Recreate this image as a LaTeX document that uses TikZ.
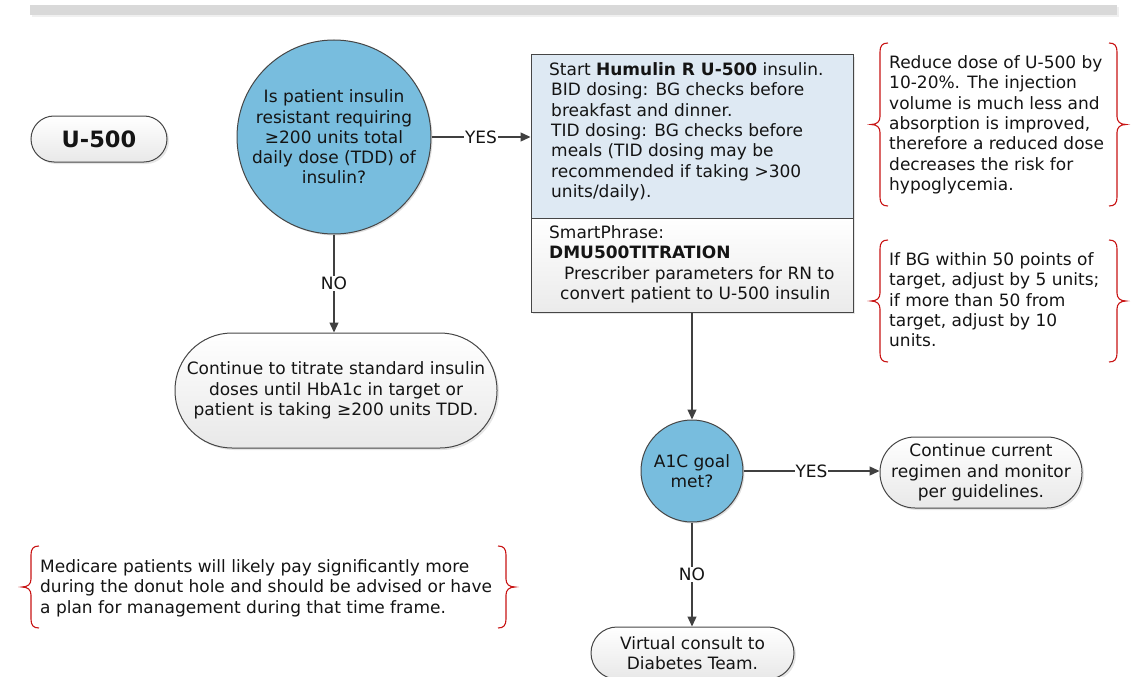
\documentclass[tikz,border=0pt]{standalone}
\usepackage{fontspec}
\setmainfont{DejaVu Sans}
\usetikzlibrary{arrows.meta,shadows}
\definecolor{tc}{RGB}{20,20,20}
\definecolor{cblue}{RGB}{120,189,222}
\definecolor{bordc}{RGB}{70,70,70}
\definecolor{linec}{RGB}{64,64,64}
\definecolor{boxblue}{RGB}{222,233,243}
\definecolor{bracered}{RGB}{200,20,20}
\definecolor{barc}{RGB}{217,217,217}
\tikzset{
  txt/.style={font=\fontsize{17}{20.3}\selectfont, text=tc},
  dec/.style={circle, draw=bordc, line width=1pt, fill=cblue, txt, align=center, inner sep=0pt,
     drop shadow={shadow xshift=1.5pt, shadow yshift=-1.5pt, opacity=0.25}},
  pill/.style={draw=bordc, line width=1pt, top color=white, bottom color=black!9, txt, align=center,
     inner sep=0pt, rounded corners=#1,
     drop shadow={shadow xshift=2pt, shadow yshift=-2pt, opacity=0.2}},
  conn/.style={draw=linec, line width=1.3pt, -{Triangle[length=10pt,width=9pt]}},
  lbl/.style={fill=white, inner sep=1pt, txt},
  notetxt/.style={txt, anchor=north west, inner sep=0pt, align=left},
  bracestyle/.style={draw=bracered, line width=1.1pt},
}
\newcommand\bracepair[4]{%
  % left brace
  \draw[bracestyle] (#1+8,#3) .. controls (#1+2,#3) and (#1,#3+3) .. (#1,#3+9)
    -- ({#1},{(#3+#4)/2-8}) .. controls ({#1},{(#3+#4)/2-3}) and ({#1-3},{(#3+#4)/2}) .. ({#1-9},{(#3+#4)/2})
    .. controls ({#1-3},{(#3+#4)/2}) and ({#1},{(#3+#4)/2+3}) .. ({#1},{(#3+#4)/2+8})
    -- (#1,#4-9) .. controls (#1,#4-3) and (#1+2,#4) .. (#1+8,#4);
  % right brace
  \draw[bracestyle] (#2-8,#3) .. controls (#2-2,#3) and (#2,#3+3) .. (#2,#3+9)
    -- ({#2},{(#3+#4)/2-8}) .. controls ({#2},{(#3+#4)/2-3}) and ({#2+3},{(#3+#4)/2}) .. ({#2+9},{(#3+#4)/2})
    .. controls ({#2+3},{(#3+#4)/2}) and ({#2},{(#3+#4)/2+3}) .. ({#2},{(#3+#4)/2+8})
    -- (#2,#4-9) .. controls (#2,#4-3) and (#2-2,#4) .. (#2-8,#4);
}
\begin{document}
\begin{tikzpicture}[x=1pt,y=-1pt]
\useasboundingbox (0,0) rectangle (1144,677);
% top bar
\fill[black!6] (32,7) rectangle (1119,17);
\fill[barc] (30,5) rectangle (1117,15);
% title pill
\node[pill=23pt, minimum width=136pt, minimum height=46pt, font=\fontsize{22.5}{26}\selectfont\bfseries] (title) at (99,139) {U-500};
% first decision
\node[dec, minimum size=194pt] (q1) at (334,137) {Is patient insulin\\resistant requiring\\≥200 units total\\daily dose (TDD) of\\insulin?};
% main box
\node[draw=bordc, line width=1pt, fill=boxblue, minimum width=322pt, minimum height=163pt, inner sep=0pt,
      drop shadow={shadow xshift=2pt, shadow yshift=-2pt, opacity=0.2}] (bt) at (692,136.5) {};
\node[draw=bordc, line width=1pt, top color=white, bottom color=black!8, minimum width=322pt, minimum height=94pt, inner sep=0pt,
      drop shadow={shadow xshift=2pt, shadow yshift=-2pt, opacity=0.2}] (bb) at (692,265) {};
\node[notetxt] (bttext) at (549,62.5) {Start \textbf{Humulin R U-500} insulin.\\
\hspace{2pt}BID dosing: BG checks before\\
\hspace{2pt}breakfast and dinner.\\
\hspace{2pt}TID dosing: BG checks before\\
\hspace{2pt}meals (TID dosing may be\\
\hspace{2pt}recommended if taking >300\\
\hspace{2pt}units/daily).};
\node[notetxt] (bbtext) at (549,225.5) {SmartPhrase:\\
\textbf{DMU500TITRATION}\\
\hspace{15pt}Prescriber parameters for RN to\\
\hspace{11pt}convert patient to U-500 insulin};
% side notes
\bracepair{880}{1117}{43}{206}
\node[notetxt] (n1) at (889,55.5) {Reduce dose of U-500 by\\10-20\%. The injection\\volume is much less and\\absorption is improved,\\therefore a reduced dose\\decreases the risk for\\hypoglycemia.};
\bracepair{880}{1117}{240}{362}
\node[notetxt] (n2) at (889,252.5) {If BG within 50 points of\\target, adjust by 5 units;\\if more than 50 from\\target, adjust by 10\\units.};
\bracepair{31}{506}{546}{628}
\node[notetxt] (n3) at (40,559.5) {Medicare patients will likely pay significantly more\\during the donut hole and should be advised or have\\a plan for management during that time frame.};
% titrate pill
\node[pill=57pt, minimum width=322pt, minimum height=115pt] (p1) at (336,390.5) {Continue to titrate standard insulin\\doses until HbA1c in target or\\patient is taking ≥200 units TDD.};
% A1C decision
\node[dec, minimum size=102pt] (a1c) at (692,471) {A1C goal\\met?};
% continue pill
\node[pill=35pt, minimum width=202pt, minimum height=71pt] (p2) at (981,472.5) {Continue current\\regimen and monitor\\per guidelines.};
% virtual pill
\node[pill=26pt, minimum width=203pt, minimum height=52pt] (p3) at (692.5,653) {Virtual consult to\\Diabetes Team.};
% connectors
\draw[conn] (q1.east) -- node[lbl]{YES} (bt.west |- q1.east);
\draw[conn] (q1.south) -- node[lbl]{NO} (p1.north -| q1.south);
\draw[conn] (bb.south) -- (a1c.north);
\draw[conn] (a1c.east) -- node[lbl]{YES} (p2.west |- a1c.east);
\draw[conn] (a1c.south) -- node[lbl]{NO} (p3.north -| a1c.south);
\end{tikzpicture}
\end{document}
